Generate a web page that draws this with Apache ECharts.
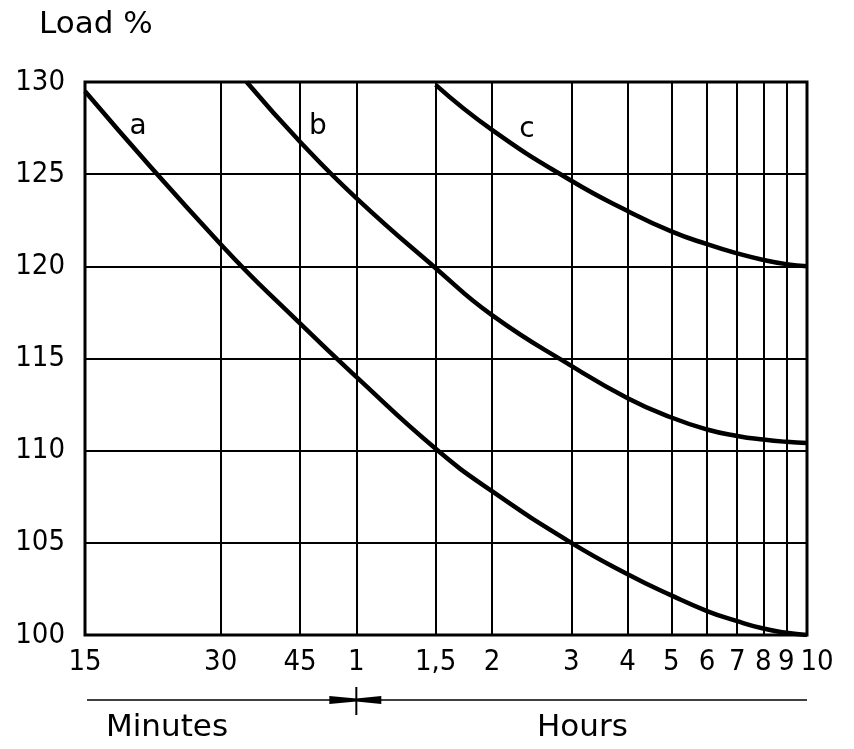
<!DOCTYPE html>
<html>
<head>
<meta charset="utf-8">
<script src="https://cdn.jsdelivr.net/npm/echarts@6/dist/echarts.min.js"></script>
<style>html,body{margin:0;padding:0;background:#fff}#c{width:854px;height:749px}</style>
</head>
<body>
<div id="c"></div>
<script>
// time in hours (log axis), load in %
const xTicks = [0.25, 0.5, 0.75, 1, 1.5, 2, 3, 4, 5, 6, 7, 8, 9, 10];
const yTicks = [100, 105, 110, 115, 120, 125, 130];
const curveA = [[0.25,129.5],[0.5,121.2],[0.75,116.9],[1,114.0],[1.5,110.1],[2,107.8],[3,105.0],[4,103.3],[5,102.15],[6,101.3],[7,100.75],[8,100.35],[9,100.12],[10,100.0]];
const curveB = [[0.571,130],[0.75,126.76],[1,123.7],[1.5,119.9],[2,117.35],[3,114.6],[4,112.85],[5,111.8],[6,111.15],[7,110.8],[8,110.6],[9,110.48],[10,110.42]];
const curveC = [[1.5,129.84],[2,127.4],[3,124.64],[4,123.0],[5,121.9],[6,121.2],[7,120.7],[8,120.35],[9,120.12],[10,120.0]];
const curveNames = ['a', 'b', 'c'];
const curveLabelPos = [[0.328,127.6],[0.822,127.6],[2.39,127.4]];

const FONT = "'DejaVu Sans Condensed', 'Liberation Sans Narrow', 'DejaVu Sans', sans-serif";
const FONT2 = "'DejaVu Sans', sans-serif";
function fmtX(v) {
  if (v < 1) return String(Math.round(v * 60));
  return String(v).replace('.', ',');
}

const chart = echarts.init(document.getElementById('c'));
const curveStyle = { color: '#000', width: 4.5 };
const option = {
  animation: false,
  backgroundColor: '#fff',
  title: { text: 'Load %', left: 34, top: 4, textStyle: { fontFamily: FONT2, fontSize: 31, fontWeight: 'normal', color: '#000' } },
  grid: { left: 85, right: 47, top: 82, bottom: 114, show: true, borderColor: '#000', borderWidth: 3, backgroundColor: 'transparent' },
  xAxis: {
    type: 'log', logBase: 10, min: 0.25, max: 10,
    axisLine: { show: false }, axisTick: { show: false }, axisLabel: { show: false }, splitLine: { show: false }, minorSplitLine: { show: false }
  },
  yAxis: {
    type: 'value', min: 100, max: 130, interval: 5,
    axisLine: { show: false }, axisTick: { show: false },
    axisLabel: { fontFamily: FONT, fontSize: 29, color: '#000', margin: 20 },
    splitLine: { lineStyle: { color: '#000', width: 2 } }
  },
  series: [
    {
      type: 'line', name: 'grid', data: [], silent: true,
      markLine: {
        silent: true, symbol: ['none', 'none'], animation: false,
        lineStyle: { color: '#000', width: 2, type: 'solid' },
        label: { show: true, position: 'start', distance: 13, fontFamily: FONT, fontSize: 29, color: '#000', formatter: p => fmtX(p.value) },
        emphasis: { disabled: true },
        data: xTicks.map(v => v === 10 ? { xAxis: v, label: { offset: [10, 0] } } : { xAxis: v })
      }
    },
    { type: 'line', name: 'a', data: curveA, smooth: 0.5, showSymbol: false, symbol: 'none', lineStyle: curveStyle, z: 5, clip: true },
    { type: 'line', name: 'b', data: curveB, smooth: 0.5, showSymbol: false, symbol: 'none', lineStyle: curveStyle, z: 5, clip: true },
    { type: 'line', name: 'c', data: curveC, smooth: 0.5, showSymbol: false, symbol: 'none', lineStyle: curveStyle, z: 5, clip: true },
    {
      type: 'scatter', name: 'labels', symbolSize: 1, silent: true, z: 6,
      itemStyle: { opacity: 0 },
      data: curveLabelPos.map((p, i) => ({ value: p, name: curveNames[i] })),
      label: { show: true, position: 'inside', formatter: p => p.name, fontFamily: FONT2, fontSize: 28, color: '#000', opacity: 1 }
    }
  ]
};
chart.setOption(option);

// bottom annotation: Minutes | Hours divider at 1 hour
const x0 = chart.convertToPixel({ xAxisIndex: 0 }, 0.25);
const x1 = chart.convertToPixel({ xAxisIndex: 0 }, 1);
const x10 = chart.convertToPixel({ xAxisIndex: 0 }, 10);
const ly = 700;
chart.setOption({
  graphic: [
    { type: 'line', shape: { x1: x0 + 2, y1: ly, x2: x10, y2: ly }, style: { stroke: '#000', lineWidth: 1.5 } },
    { type: 'line', shape: { x1: x1, y1: ly - 13, x2: x1, y2: ly + 15 }, style: { stroke: '#000', lineWidth: 2 } },
    { type: 'polygon', shape: { points: [[x1 - 27, ly - 4], [x1, ly - 1.5], [x1, ly + 1.5], [x1 - 27, ly + 4]] }, style: { fill: '#000' } },
    { type: 'polygon', shape: { points: [[x1 + 25, ly - 4], [x1, ly - 1.5], [x1, ly + 1.5], [x1 + 25, ly + 4]] }, style: { fill: '#000' } },
    { type: 'text', left: 106, top: 712, style: { text: 'Minutes', font: "31px " + FONT2, fill: '#000' } },
    { type: 'text', left: 537, top: 712, style: { text: 'Hours', font: "31px " + FONT2, fill: '#000' } }
  ]
});
</script>
</body>
</html>
